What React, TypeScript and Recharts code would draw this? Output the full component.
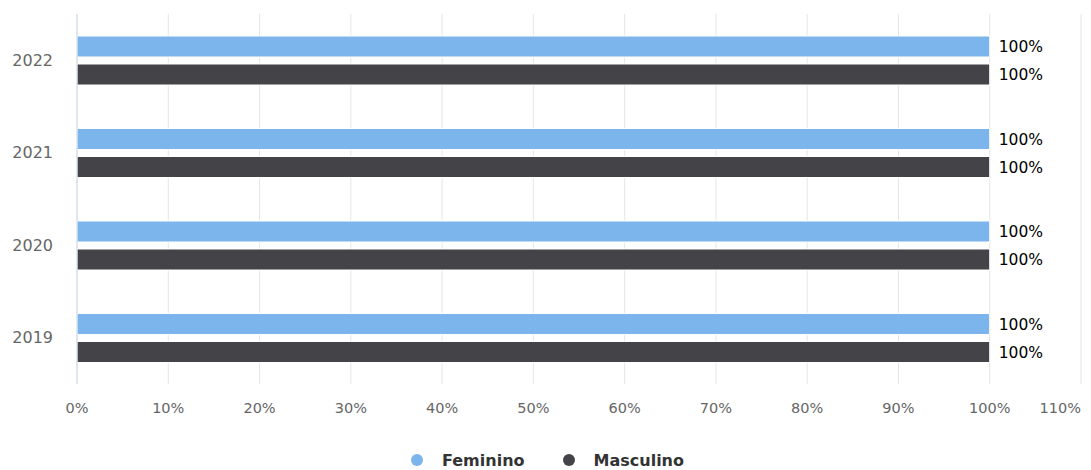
import React from 'react';
import { BarChart, Bar, XAxis, YAxis, CartesianGrid, LabelList } from 'recharts';

const categories = ['2022', '2021', '2020', '2019'];
const feminino = [100, 100, 100, 100];
const masculino = [100, 100, 100, 100];
const xTicks = [0, 10, 20, 30, 40, 50, 60, 70, 80, 90, 100, 110];

const seriesNames = ['Feminino', 'Masculino'];
const seriesColors = ['#7cb5ec', '#434348'];

const data = categories.map((c, i) => ({ year: c, Feminino: feminino[i], Masculino: masculino[i] }));

const FONT = '"DejaVu Sans", Verdana, sans-serif';

const LegendBox = () => (
  <div
    style={{
      position: 'absolute', left: 0, top: 450, width: 1091, height: 20,
      display: 'flex', justifyContent: 'center', alignItems: 'center', fontFamily: FONT,
      paddingLeft: 4, boxSizing: 'border-box',
    }}
  >
    {seriesNames.map((n, i) => (
      <div key={n} style={{ display: 'flex', alignItems: 'center', marginLeft: i ? 38 : 0 }}>
        <svg width={12} height={12} style={{ marginRight: 19 }}>
          <circle cx={6} cy={6} r={6} fill={seriesColors[i]} />
        </svg>
        <span style={{ fontSize: 16, fontWeight: 'bold', color: '#333' }}>{n}</span>
      </div>
    ))}
  </div>
);

const XTick = (props: any) => {
  const { x, y, payload } = props;
  const last = payload.value === xTicks[xTicks.length - 1];
  return (
    <text
      x={x}
      y={y}
      dy="0.71em"
      textAnchor={last ? 'end' : 'middle'}
      fill="#666"
      fontSize={14.5}
      fontFamily={FONT}
    >
      {`${payload.value}%`}
    </text>
  );
};

export default function App() {
  return (
    <div style={{ position: 'absolute', left: 0, top: 0, width: 1091, height: 470, background: '#fff' }}>
      <BarChart
        width={1091}
        height={470}
        data={data}
        layout="vertical"
        margin={{ top: 14, right: 10, bottom: 56, left: 0 }}
        barSize={21}
        barGap={7}
      >
        <CartesianGrid horizontal={false} stroke="#e6e6e6" />
        <XAxis
          type="number"
          domain={[0, 110]}
          ticks={xTicks}
          interval={0}
          axisLine={false}
          tickLine={false}
          tickMargin={13}
          tick={<XTick />}
        />
        <YAxis
          type="category"
          dataKey="year"
          width={77}
          axisLine={{ stroke: '#ccd6eb' }}
          tickLine={false}
          tickSize={0}
          tickMargin={24}
          tick={{ fill: '#666', fontSize: 16, fontFamily: FONT }}
        />
        {seriesNames.map((n, i) => (
          <Bar key={n} dataKey={n} fill={seriesColors[i]} stroke="#fff" strokeWidth={1} isAnimationActive={false}>
            <LabelList
              dataKey={n}
              position="right"
              offset={9}
              formatter={(v: number) => `${v}%`}
              style={{ fill: '#000', fontSize: 15.5, fontFamily: FONT }}
            />
          </Bar>
        ))}
      </BarChart>
      <LegendBox />
    </div>
  );
}
